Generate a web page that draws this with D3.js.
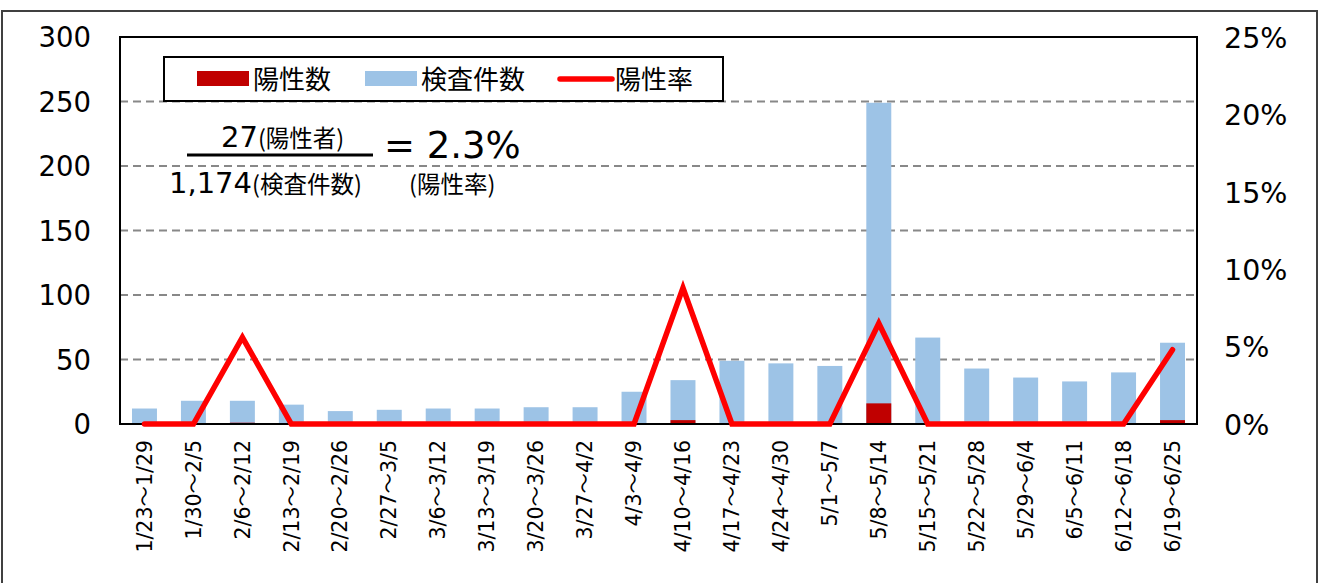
<!DOCTYPE html>
<html><head><meta charset="utf-8">
<script src="https://cdn.jsdelivr.net/npm/d3@7/dist/d3.min.js"></script>
<style>
html,body{margin:0;padding:0;background:#fff;}
svg{display:block;font-family:"DejaVu Sans","Noto Sans CJK JP",sans-serif;}
</style></head><body>
<svg id="chart" width="1320" height="583"></svg>
<script>
const categories = ["1/23～1/29","1/30～2/5","2/6～2/12","2/13～2/19","2/20～2/26","2/27～3/5","3/6～3/12","3/13～3/19","3/20～3/26","3/27～4/2","4/3～4/9","4/10～4/16","4/17～4/23","4/24～4/30","5/1～5/7","5/8～5/14","5/15～5/21","5/22～5/28","5/29～6/4","6/5～6/11","6/12～6/18","6/19～6/25"];
const tests     = [12,18,18,15,10,11,12,12,13,13,25,34,49,47,45,249,67,43,36,33,40,63];
const positives = [0,0,1,0,0,0,0,0,0,0,0,3,0,0,0,16,0,0,0,0,0,3];
const rates     = [0,0,5.6,0,0,0,0,0,0,0,0,8.8,0,0,0,6.5,0,0,0,0,0,4.8];
const leftTicks  = [0,50,100,150,200,250,300];
const rightTicks = [0,5,10,15,20,25];
const legendLabels = ["陽性数","検査件数","陽性率"];

const svg = d3.select("#chart");
const m = {left:120, right:1197, top:37, bottom:424};

// outer frame
svg.append("rect").attr("x",2).attr("y",11).attr("width",1315).attr("height",620)
  .attr("fill","none").attr("stroke","#404040").attr("stroke-width",2);

const x = d3.scaleBand().domain(categories).range([m.left, m.right]).paddingInner(0.49).paddingOuter(0.245);
const y = d3.scaleLinear().domain([0,300]).range([m.bottom, m.top]);
const y2 = d3.scaleLinear().domain([0,25]).range([m.bottom, m.top]);

// gridlines
svg.append("g").selectAll("line").data(leftTicks.filter(d=>d>0 && d<300)).join("line")
  .attr("x1",m.left).attr("x2",m.right).attr("y1",d=>y(d)).attr("y2",d=>y(d))
  .attr("stroke","#888").attr("stroke-width",2).attr("stroke-dasharray","8,5");

// bars
svg.append("g").selectAll("rect").data(tests).join("rect")
  .attr("x",(d,i)=>x(categories[i])).attr("width",x.bandwidth())
  .attr("y",d=>y(d)).attr("height",d=>y(0)-y(d)).attr("fill","#9dc3e6");
svg.append("g").selectAll("rect").data(positives).join("rect")
  .attr("x",(d,i)=>x(categories[i])).attr("width",x.bandwidth())
  .attr("y",d=>y(d)).attr("height",d=>y(0)-y(d)).attr("fill","#c00000");

// plot frame
svg.append("rect").attr("x",m.left).attr("y",m.top).attr("width",m.right-m.left).attr("height",m.bottom-m.top)
  .attr("fill","none").attr("stroke","#000").attr("stroke-width",2);

// rate line
const line = d3.line().x((d,i)=>x(categories[i])+x.bandwidth()/2).y(d=>y2(d));
svg.append("path").datum(rates).attr("d",line).attr("fill","none")
  .attr("stroke","#ff0000").attr("stroke-width",5.5).attr("stroke-linejoin","miter").attr("stroke-linecap","round");

// left axis
const ga = svg.append("g").attr("transform",`translate(${m.left-29},0)`)
  .call(d3.axisLeft(y).tickValues(leftTicks).tickSize(0).tickPadding(0));
ga.select(".domain").remove();
ga.selectAll("text").attr("font-size",27.5).attr("font-family","DejaVu Sans").attr("fill","#000").attr("dy","0.36em");

// right axis
const gb = svg.append("g").attr("transform",`translate(${m.right+27},0)`)
  .call(d3.axisRight(y2).tickValues(rightTicks).tickFormat(d=>d+"%").tickSize(0).tickPadding(0));
gb.select(".domain").remove();
gb.selectAll("text").attr("font-size",28.5).attr("font-family","DejaVu Sans").attr("fill","#000").attr("dy","0.36em");

// x axis labels
const gx = svg.append("g").attr("transform",`translate(0,${m.bottom})`)
  .call(d3.axisBottom(x).tickSize(0).tickPadding(0));
gx.select(".domain").remove();
gx.selectAll("text").attr("font-size",20.5).attr("font-family","DejaVu Sans, Noto Sans CJK JP").attr("fill","#000")
  .attr("text-anchor","end").attr("dy","0.35em").attr("transform","translate(0,16) rotate(-90)").attr("x",0).attr("y",0);

// legend
const lg = svg.append("g");
lg.append("rect").attr("x",164).attr("y",57).attr("width",559).attr("height",44)
  .attr("fill","#fff").attr("stroke","#000").attr("stroke-width",2);
lg.append("rect").attr("x",197).attr("y",71).attr("width",52).attr("height",15).attr("fill","#c00000");
lg.append("rect").attr("x",365).attr("y",71).attr("width",52).attr("height",15).attr("fill","#9dc3e6");
lg.append("line").attr("x1",560).attr("x2",612).attr("y1",79).attr("y2",79)
  .attr("stroke","#ff0000").attr("stroke-width",5.5).attr("stroke-linecap","round");
const lx = [253,421,615];
lg.selectAll("text").data(legendLabels).join("text")
  .attr("x",(d,i)=>lx[i]).attr("y",89).attr("font-size",26)
  .attr("font-family","Noto Sans CJK JP").attr("fill","#000").text(d=>d);

// formula annotation
const f = svg.append("g").attr("fill","#000");
const t1 = f.append("text").attr("x",221).attr("y",147);
t1.append("tspan").attr("font-size",29).text("27");
t1.append("tspan").attr("font-size",23.5).attr("font-family","Noto Sans CJK JP").text("(陽性者)");
f.append("line").attr("x1",187).attr("x2",373).attr("y1",155).attr("y2",155).attr("stroke","#000").attr("stroke-width",3);
const t2 = f.append("text").attr("x",169).attr("y",193);
t2.append("tspan").attr("font-size",29).text("1,174");
t2.append("tspan").attr("font-size",23.5).attr("font-family","Noto Sans CJK JP").text("(検査件数)");
f.append("text").attr("x",384).attr("y",158).attr("font-size",37).text("= 2.3%");
f.append("text").attr("x",409).attr("y",193).attr("font-size",23.5).attr("font-family","Noto Sans CJK JP").text("(陽性率)");
</script>
</body></html>
